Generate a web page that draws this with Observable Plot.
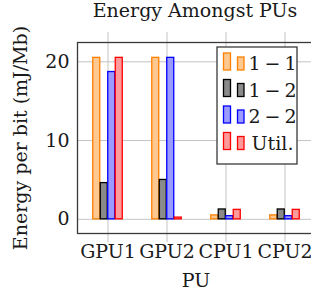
<!DOCTYPE html>
<html>
<head>
<meta charset="utf-8">
<script src="https://cdn.jsdelivr.net/npm/d3@7"></script>
<script src="https://cdn.jsdelivr.net/npm/@observablehq/plot@0.6"></script>
<style>
  html, body { margin: 0; padding: 0; background: #fff; overflow: hidden; }
  #chart { position: relative; width: 311px; height: 299px; overflow: hidden; }
  #chart svg { max-width: none !important; }
  #chart svg text { font-family: "DejaVu Serif", serif; font-size: 19px; fill: #1a1a1a; }
</style>
</head>
<body>
<div id="chart"></div>
<script>
// ---- data ----
const pus = ["GPU1", "GPU2", "CPU1", "CPU2"];
const seriesNames = ["1 \u2212 1", "1 \u2212 2", "2 \u2212 2", "Util."];
const v11  = [20.5, 20.5, 0.5, 0.5];
const v12  = [4.6, 5.0, 1.25, 1.25];
const v22  = [18.7, 20.5, 0.4, 0.4];
const util = [20.5, 0.22, 1.2, 1.2];
const yTicks = [0, 10, 20];
const title = "Energy Amongst PUs";
const yLabel = "Energy per bit (mJ/Mb)";
const xLabel = "PU";

// ---- styles ----
const strokes = ["#ff8000", "#000000", "#0000ff", "#ff0000"];
const fills   = ["#ffc890", "#8a8a8a", "#9a9aff", "#ff9a9a"];

const W = 320, H = 299;
const mL = 77, mR = 5, mT = 42, mB = 66;
const bandW = (W - mL - mR) / pus.length;
const barW = 7.5;

const seriesValues = [v11, v12, v22, util];
const barMarks = seriesValues.map((vals, i) => {
  const data = pus.map((p, j) => ({pu: p, value: vals[j]}));
  return Plot.barY(data, {
    x: "pu", y: "value",
    fill: fills[i], stroke: strokes[i], strokeWidth: 1.3,
    insetLeft: (bandW - barW) / 2, insetRight: (bandW - barW) / 2,
    dx: (i - 1.5) * barW
  });
});

const svgPlot = Plot.plot({
  width: W, height: H,
  marginLeft: mL, marginRight: mR, marginTop: mT, marginBottom: mB,
  style: {fontFamily: "DejaVu Serif", fontSize: "19px", background: "white", maxWidth: "none"},
  x: {domain: pus, padding: 0, tickSize: 0, tickPadding: 11, label: null},
  y: {domain: [-1.8, 22.45], ticks: yTicks, tickSize: 0, tickPadding: 8, label: null},
  marks: [
    Plot.ruleY(yTicks, {stroke: "#c4c4c4", strokeWidth: 1}),
    Plot.ruleX(pus, {x: d => d, stroke: "#c4c4c4", strokeWidth: 1, insetTop: -10, insetBottom: -9}),
    ...barMarks,
    Plot.frame({stroke: "#3a3a3a", strokeWidth: 1.3})
  ]
});

document.getElementById("chart").appendChild(svgPlot);
const svg = d3.select(svgPlot).attr("overflow", "visible");

// Title
svg.append("text").attr("x", 195).attr("y", 17).attr("text-anchor", "middle").text(title);
// X label
svg.append("text").attr("x", 196).attr("y", 287).attr("text-anchor", "middle").text(xLabel);
// Y label
svg.append("text").attr("transform", "translate(27,138) rotate(-90)").attr("text-anchor", "middle").text(yLabel);

// Legend
const lg = svg.append("g");
lg.append("rect").attr("x", 217).attr("y", 47).attr("width", 80).attr("height", 117)
  .attr("fill", "white").attr("stroke", "#3a3a3a").attr("stroke-width", 1.3);
seriesNames.forEach((name, i) => {
  const base = 70 + i * 26.5;
  lg.append("rect").attr("x", 223.5).attr("y", base - 17).attr("width", 7).attr("height", 17)
    .attr("fill", fills[i]).attr("stroke", strokes[i]).attr("stroke-width", 1.3);
  lg.append("rect").attr("x", 237.5).attr("y", base - 13).attr("width", 6.5).attr("height", 13)
    .attr("fill", fills[i]).attr("stroke", strokes[i]).attr("stroke-width", 1.3);
  lg.append("text").attr("x", 272.5).attr("y", base).attr("text-anchor", "middle")
    .style("word-spacing", "-2px").text(name);
});
</script>
</body>
</html>
